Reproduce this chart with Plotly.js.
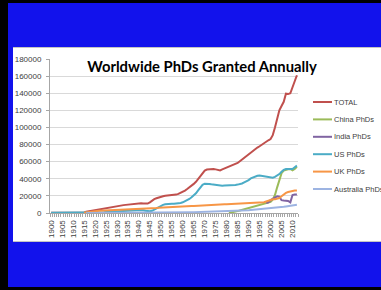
<!DOCTYPE html>
<html>
<head>
<meta charset="utf-8">
<script src="https://cdn.plot.ly/plotly-3.0.1.min.js"></script>
<style>
  html, body { margin:0; padding:0; background:#000; width:381px; height:290px; overflow:hidden; }
  #blue { position:absolute; left:8px; top:3px; width:373px; height:284px; background:#1212EC; }
  #white { position:absolute; left:13px; top:47px; width:368px; height:195px; background:#fff;
           border-top:1px solid #c4c4c4; border-bottom:1px solid #c4c4c4; box-sizing:border-box; overflow:hidden; }
  #chart { position:absolute; left:0; top:-1px; width:400px; height:195px; }
</style>
</head>
<body>
<div id="blue"></div>
<div id="white"><div id="chart"></div></div>
<script>
// Categories (years)
const years = [
 1900,1901,1902,1903,1904,1905,1906,1907,1908,1909,
 1910,1911,1912,1913,1914,1915,1916,1917,1918,1919,
 1920,1921,1922,1923,1924,1925,1926,1927,1928,1929,
 1930,1931,1932,1933,1934,1935,1936,1937,1938,1939,
 1940,1941,1942,1943,1944,1945,1946,1947,1948,1949,
 1950,1951,1952,1953,1954,1955,1956,1957,1958,1959,
 1960,1961,1962,1963,1964,1965,1966,1967,1968,1969,
 1970,1971,1972,1973,1974,1975,1976,1977,1978,1979,
 1980,1981,1982,1983,1984,1985,1986,1987,1988,1989,
 1990,1991,1992,1993,1994,1995,1996,1997,1998,1999,
 2000,2001,2002,2003,2004,2005,2006,2007,2008,2009,
 2010,2011,2012];

// Series values (from 1900)
const totalPhDs = [
 300,300,300,350,350,400,400,400,450,450,
 450,500,500,550,550,600,1500,2000,2400,2800,
 3300,3800,4200,4700,5200,5800,6300,6800,7300,7800,
 8200,8600,8900,9200,9500,9800,10200,10700,11200,11600,
 11700,11400,11000,10800,11000,12500,14500,16200,17200,18200,
 19000,19600,20200,20400,20600,20700,21000,21500,22300,23400,
 24700,26200,28000,29800,31800,34000,36500,39500,43000,46500,
 49500,50800,51200,51000,51400,51000,50200,49800,51000,52000,
 53000,54000,55000,56000,57000,58500,60500,62500,65000,67500,
 69500,71500,73500,75000,76500,78000,80000,81800,83500,85000,
 86500,91000,100000,111000,120000,125000,130000,139500,139000,140000,
 148000,154000,161000];

const usPhDs = [
 300,300,300,350,350,400,400,400,450,450,
 450,500,500,550,550,600,600,650,650,600,
 600,700,800,900,1000,1200,1400,1600,1800,1900,
 2000,2100,2200,2400,2500,2600,2700,2900,3000,3200,
 3300,3400,3200,2700,2300,2000,2600,4000,5500,6700,
 8500,9500,10200,10600,10800,10900,10800,10900,11200,11800,
 12500,13500,14800,16400,18300,20500,23000,26500,30000,33000,
 34300,34500,34000,33500,33100,32800,32300,31900,31900,32000,
 32000,32200,32300,32500,32800,33200,33700,34500,35800,37000,
 38500,40500,41800,42800,43500,43800,43300,42800,42000,41300,
 40900,41200,42200,43600,45500,48200,50500,51400,51500,51400,
 51500,53500,55300];

// UK from 1915
const ukStart = 1915;
const ukPhDs = [
 300,800,1300,1700,2000,
 2300,2400,2500,2600,2700,2800,2900,3000,3100,3300,
 3400,3500,3600,3700,3800,3900,4100,4200,4400,4500,
 4700,4800,4900,5000,5100,5300,5400,5600,5800,6000,
 6200,6300,6500,6600,6800,7000,7100,7300,7400,7500,
 7600,7700,7800,8000,8200,8300,8500,8600,8800,8900,
 9000,9100,9200,9400,9500,9600,9800,9900,10000,10200,
 10300,10400,10600,10700,10800,11000,11100,11200,11400,11500,
 11600,11700,11800,12000,12100,12200,12400,12600,13500,14500,
 15500,16000,16200,16600,17500,19500,22000,23500,24500,25300,
 26000,26400,26400];

// China from 1981
const chinaStart = 1981;
const chinaPhDs = [
 200,500,1000,1600,2200,2900,3600,4300,5000,
 5700,6400,7100,7800,8500,9200,9900,10600,11300,12000,
 13000,15500,21000,30000,40000,46500,49500,50500,51000,51500,
 50000,51500,54000];

// India from 1998
const indiaStart = 1998;
const indiaPhDs = [
 11500,12500,15000,16500,18000,19500,19000,15000,14500,14400,
 14000,12400,21000,21500,21500];

// Australia from 1916
const ausStart = 1916;
const australiaPhDs = [
 100,100,100,100,
 100,100,100,100,100,100,120,120,120,120,
 130,130,130,140,140,150,150,150,160,160,
 170,170,170,170,170,200,230,260,300,330,
 360,390,420,450,480,510,540,570,600,650,
 700,760,820,880,940,1000,1060,1120,1180,1240,
 1300,1360,1420,1480,1540,1600,1660,1720,1780,1840,
 1900,2000,2100,2200,2350,2500,2650,2800,2950,3100,
 3200,3400,3600,3800,4050,4300,4550,4800,5050,5300,
 5500,5800,6100,6300,6600,6900,7200,7600,8000,8400,
 8700,9200,9700];

const seriesNames = ['TOTAL','China PhDs','India PhDs','US PhDs','UK PhDs','Australia PhDs'];
const seriesColors = ['#C0504D','#9BBB59','#8064A2','#4BACC6','#F79646','#9DB4E2'];
const titleText = 'Worldwide PhDs Granted Annually';

function yearsFrom(start, n) { const i = years.indexOf(start); return years.slice(i, i + n); }

const seriesData = [
  {x: years, y: totalPhDs},
  {x: yearsFrom(chinaStart, chinaPhDs.length), y: chinaPhDs},
  {x: yearsFrom(indiaStart, indiaPhDs.length), y: indiaPhDs},
  {x: years, y: usPhDs},
  {x: yearsFrom(ukStart, ukPhDs.length), y: ukPhDs},
  {x: yearsFrom(ausStart, australiaPhDs.length), y: australiaPhDs}
];

const traces = seriesData.map((s, i) => ({
  type: 'scatter', mode: 'lines', name: seriesNames[i],
  x: s.x, y: s.y,
  line: {color: seriesColors[i], width: 2},
  hoverinfo: 'skip'
}));

// Layout geometry (pixels inside the 400x195 chart box)
const W = 400, H = 195, ML = 37, MR = 115, MT = 12, MB = 29;
const PW = W - ML - MR, PH = H - MT - MB;
const px2x = p => (p - ML) / PW;
const px2y = p => 1 - (p - MT) / PH;

// Legend drawn at Excel-like spacing
const legLineX0 = 300, legLineX1 = 319, legTextX = 320, legY0 = 55, legStep = 17.4;
const legendShapes = seriesNames.map((n, i) => ({
  type: 'line', xref: 'paper', yref: 'paper',
  x0: px2x(legLineX0), x1: px2x(legLineX1),
  y0: px2y(legY0 + i * legStep), y1: px2y(legY0 + i * legStep),
  line: {color: seriesColors[i], width: 2}
}));
const legendLabels = seriesNames.map((n, i) => ({
  text: n, xref: 'paper', yref: 'paper',
  x: px2x(legTextX), y: px2y(legY0 + i * legStep),
  xanchor: 'left', yanchor: 'middle', showarrow: false, borderpad: 0,
  font: {family: 'Liberation Sans, Arial, sans-serif', size: 7.5, color: '#404040'}
}));

const tickFont = {family: 'Liberation Sans, Arial, sans-serif', size: 8, color: '#404040'};

const layout = {
  width: W, height: H,
  margin: {l: ML, r: MR, t: MT, b: MB, autoexpand: false},
  paper_bgcolor: 'rgba(0,0,0,0)', plot_bgcolor: 'rgba(0,0,0,0)',
  showlegend: false,
  title: {
    text: titleText,
    xref: 'container', x: 0.4725, xanchor: 'center',
    yref: 'container', y: 0.897, yanchor: 'middle',
    font: {family: 'Lato, Carlito, sans-serif', size: 14.8, weight: 700, color: '#000'}
  },
  xaxis: {
    range: [1899.5, 2012.5],
    tickmode: 'linear', tick0: 1900, dtick: 5,
    tickangle: -90, tickfont: tickFont,
    ticks: '', showgrid: false, zeroline: false,
    showline: true, linecolor: '#a6a6a6', linewidth: 1,
    ticklabelstandoff: 3,
    minor: {tick0: 1899.5, dtick: 1, ticks: 'outside', ticklen: 3, tickcolor: '#a6a6a6', tickwidth: 1, showgrid: false}
  },
  yaxis: {
    range: [0, 180000], tickmode: 'linear', tick0: 0, dtick: 20000,
    tickformat: 'd', tickfont: tickFont,
    ticks: 'outside', ticklen: 3, tickcolor: '#a6a6a6',
    showgrid: true, gridcolor: '#d9d9d9', gridwidth: 1,
    zeroline: false, showline: true, linecolor: '#a6a6a6', linewidth: 1,
    ticklabelstandoff: 3
  },
  shapes: legendShapes,
  annotations: legendLabels
};

Plotly.newPlot('chart', traces, layout, {staticPlot: true, displayModeBar: false});
</script>
</body>
</html>
